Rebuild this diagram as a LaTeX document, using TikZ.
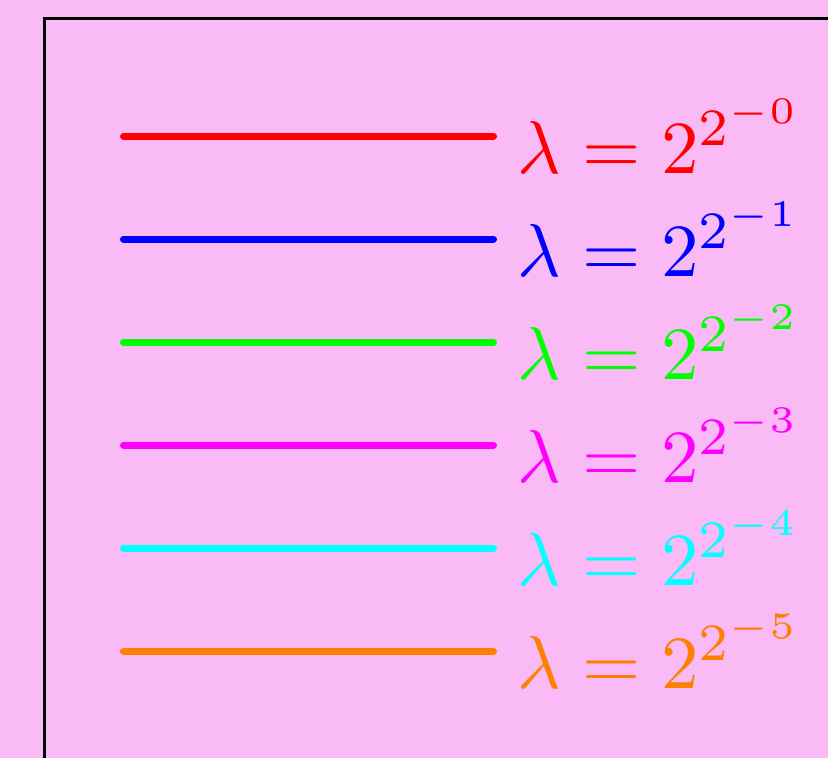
\documentclass[tikz,border=0pt]{standalone}

\definecolor{bgpink}{RGB}{249,186,246}
\definecolor{lgred}{RGB}{255,0,0}
\definecolor{lgblue}{RGB}{0,0,255}
\definecolor{lggreen}{RGB}{0,255,0}
\definecolor{lgmagenta}{RGB}{255,0,255}
\definecolor{lgcyan}{RGB}{0,255,255}
\definecolor{lgorange}{RGB}{255,128,0}

\tikzset{
  legline/.style={line width=7pt, line cap=round},
  leglabel/.style={anchor=base west, inner sep=0pt, font=\normalsize, scale=7.5},
}

\begin{document}
\begin{tikzpicture}[x=1pt,y=-1pt]

  % page and background
  \useasboundingbox (0,0) rectangle (828,758);
  \clip (0,0) rectangle (828,758);
  \fill[bgpink] (0,0) rectangle (828,758);

  % legend frame
  \draw[black, line width=3.3pt] (44.5,18.3) rectangle (900,830);

  % legend lines
  \draw[legline, lgred] (123.5,136) -- (493.5,136);
  \draw[legline, lgblue] (123.5,239) -- (493.5,239);
  \draw[legline, lggreen] (123.5,342) -- (493.5,342);
  \draw[legline, lgmagenta] (123.5,445) -- (493.5,445);
  \draw[legline, lgcyan] (123.5,548) -- (493.5,548);
  \draw[legline, lgorange] (123.5,651) -- (493.5,651);

  % legend labels
  \node[leglabel, lgred] (lam0) at (516,173) {$\lambda = 2^{2^{-0}}$};
  \node[leglabel, lgblue] (lam1) at (516,276) {$\lambda = 2^{2^{-1}}$};
  \node[leglabel, lggreen] (lam2) at (516,379) {$\lambda = 2^{2^{-2}}$};
  \node[leglabel, lgmagenta] (lam3) at (516,482) {$\lambda = 2^{2^{-3}}$};
  \node[leglabel, lgcyan] (lam4) at (516,585) {$\lambda = 2^{2^{-4}}$};
  \node[leglabel, lgorange] (lam5) at (516,688) {$\lambda = 2^{2^{-5}}$};

\end{tikzpicture}
\end{document}
